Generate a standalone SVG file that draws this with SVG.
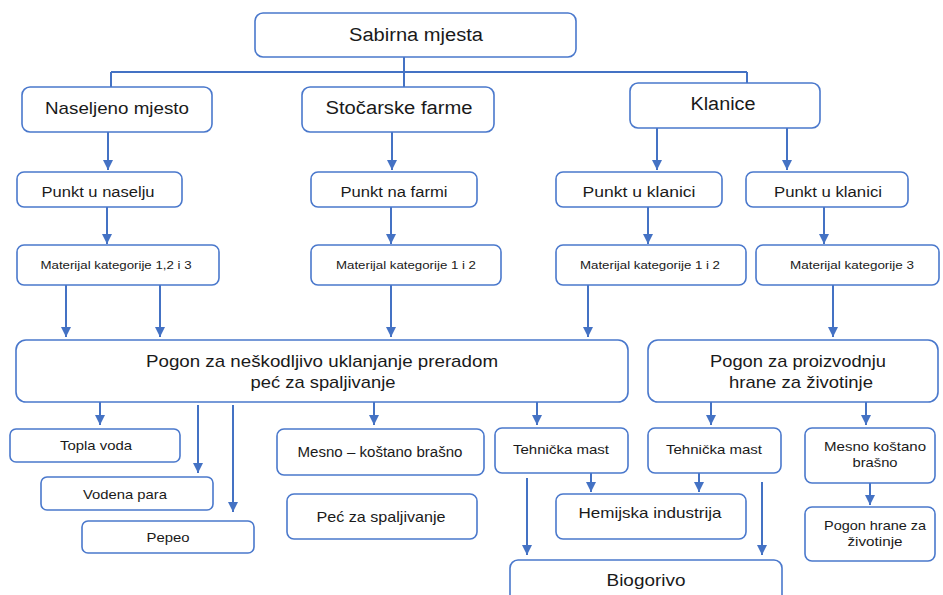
<svg xmlns="http://www.w3.org/2000/svg" width="943" height="595" viewBox="0 0 943 595">
<style>
.b{fill:#fff;stroke:#4a78cc;stroke-width:1.6}
.t{font-family:"Liberation Sans",Arial,sans-serif;fill:#1a1a1a;text-anchor:middle}
.l{fill:none;stroke:#4472c4;stroke-width:2}
.a{fill:none;stroke:#4472c4;stroke-width:2;marker-end:url(#ah)}
</style>
<defs>
<marker id="ah" viewBox="0 0 10 10" refX="10" refY="5" markerWidth="5" markerHeight="5" markerUnits="strokeWidth" orient="auto">
<path d="M0,0 L10,5 L0,10 z" fill="#4472c4"/>
</marker>
</defs>
<rect width="943" height="595" fill="#fff"/>
<g id="connectors">
<path class="l" d="M404,57 V72 M111,72 H747 M111,72 V88 M404,72 V88 M747,72 V83"/>
<path class="a" d="M108,132 V170"/>
<path class="a" d="M392,132 V170"/>
<path class="a" d="M657,128 V170"/>
<path class="a" d="M787,128 V170"/>
<path class="a" d="M107,207 V244"/>
<path class="a" d="M391,207 V244"/>
<path class="a" d="M648,207 V244"/>
<path class="a" d="M824,207 V244"/>
<path class="a" d="M66,285 V337"/>
<path class="a" d="M160,285 V337"/>
<path class="a" d="M391,285 V337"/>
<path class="a" d="M588,285 V337"/>
<path class="a" d="M833,285 V337"/>
<path class="a" d="M100,402 V425"/>
<path class="a" d="M198,405 V473"/>
<path class="a" d="M233,405 V512"/>
<path class="a" d="M374,402 V425"/>
<path class="a" d="M537,402 V425"/>
<path class="a" d="M711,402 V425"/>
<path class="a" d="M866,402 V425"/>
<path class="a" d="M591,473 V492"/>
<path class="a" d="M699,473 V492"/>
<path class="a" d="M527,478 V555"/>
<path class="a" d="M762,482 V555"/>
<path class="a" d="M870,483 V505"/>
</g>
<g id="sabirna"><rect class="b" x="255" y="13" width="321" height="44" rx="8"/><text class="t" x="416" y="41" font-size="18" textLength="134" lengthAdjust="spacingAndGlyphs">Sabirna mjesta</text></g>
<g id="naseljeno"><rect class="b" x="22" y="87" width="190" height="45" rx="8"/><text class="t" x="117" y="114" font-size="17" textLength="144" lengthAdjust="spacingAndGlyphs">Naseljeno mjesto</text></g>
<g id="stocarske"><rect class="b" x="302" y="87" width="192" height="45" rx="8"/><text class="t" x="399" y="114" font-size="18" textLength="147" lengthAdjust="spacingAndGlyphs">Stočarske farme</text></g>
<g id="klanice"><rect class="b" x="630" y="83" width="190" height="45" rx="8"/><text class="t" x="723" y="110" font-size="18" textLength="65" lengthAdjust="spacingAndGlyphs">Klanice</text></g>
<g id="punkt-naselje"><rect class="b" x="17" y="172" width="165" height="35" rx="7"/><text class="t" x="98" y="197" font-size="14" textLength="113" lengthAdjust="spacingAndGlyphs">Punkt u naselju</text></g>
<g id="punkt-farma"><rect class="b" x="311" y="172" width="166" height="35" rx="7"/><text class="t" x="394" y="197" font-size="14" textLength="107" lengthAdjust="spacingAndGlyphs">Punkt na farmi</text></g>
<g id="punkt-klanica1"><rect class="b" x="556" y="172" width="166" height="35" rx="7"/><text class="t" x="639" y="197" font-size="14" textLength="113" lengthAdjust="spacingAndGlyphs">Punkt u klanici</text></g>
<g id="punkt-klanica2"><rect class="b" x="746" y="172" width="162" height="35" rx="7"/><text class="t" x="828" y="197" font-size="14" textLength="108" lengthAdjust="spacingAndGlyphs">Punkt u klanici</text></g>
<g id="mat-123"><rect class="b" x="17" y="245" width="202" height="40" rx="7"/><text class="t" x="116" y="269" font-size="11" textLength="151" lengthAdjust="spacingAndGlyphs">Materijal kategorije 1,2 i 3</text></g>
<g id="mat-12a"><rect class="b" x="311" y="245" width="190" height="40" rx="7"/><text class="t" x="406" y="269" font-size="11" textLength="140" lengthAdjust="spacingAndGlyphs">Materijal kategorije 1 i 2</text></g>
<g id="mat-12b"><rect class="b" x="556" y="245" width="190" height="40" rx="7"/><text class="t" x="650" y="269" font-size="11" textLength="140" lengthAdjust="spacingAndGlyphs">Materijal kategorije 1 i 2</text></g>
<g id="mat-3"><rect class="b" x="756" y="245" width="183" height="40" rx="7"/><text class="t" x="852" y="269" font-size="11" textLength="124" lengthAdjust="spacingAndGlyphs">Materijal kategorije 3</text></g>
<g id="pogon1"><rect class="b" x="16" y="340" width="612" height="62" rx="10"/><text class="t" x="322" y="367" font-size="17" textLength="352" lengthAdjust="spacingAndGlyphs">Pogon za neškodljivo uklanjanje preradom</text><text class="t" x="323" y="388" font-size="17" textLength="145" lengthAdjust="spacingAndGlyphs">peć za spaljivanje</text></g>
<g id="pogon2"><rect class="b" x="648" y="340" width="290" height="62" rx="10"/><text class="t" x="798" y="367" font-size="17" textLength="176" lengthAdjust="spacingAndGlyphs">Pogon za proizvodnju</text><text class="t" x="801" y="388" font-size="17" textLength="144" lengthAdjust="spacingAndGlyphs">hrane za životinje</text></g>
<g id="topla"><rect class="b" x="10" y="429" width="170" height="33" rx="6"/><text class="t" x="96" y="450" font-size="13" textLength="72" lengthAdjust="spacingAndGlyphs">Topla voda</text></g>
<g id="vodena"><rect class="b" x="41" y="477" width="172" height="33" rx="6"/><text class="t" x="125" y="499" font-size="13" textLength="84" lengthAdjust="spacingAndGlyphs">Vodena para</text></g>
<g id="pepeo"><rect class="b" x="82" y="521" width="172" height="32" rx="6"/><text class="t" x="168" y="542" font-size="13" textLength="43" lengthAdjust="spacingAndGlyphs">Pepeo</text></g>
<g id="mesno1"><rect class="b" x="277" y="429" width="207" height="46" rx="7"/><text class="t" x="380" y="457" font-size="14" textLength="165" lengthAdjust="spacingAndGlyphs">Mesno – koštano brašno</text></g>
<g id="pec"><rect class="b" x="287" y="494" width="190" height="45" rx="7"/><text class="t" x="381" y="522" font-size="15" textLength="129" lengthAdjust="spacingAndGlyphs">Peć za spaljivanje</text></g>
<g id="mast1"><rect class="b" x="495" y="428" width="133" height="45" rx="7"/><text class="t" x="561" y="454" font-size="13" textLength="96" lengthAdjust="spacingAndGlyphs">Tehnička mast</text></g>
<g id="mast2"><rect class="b" x="648" y="428" width="133" height="45" rx="7"/><text class="t" x="714" y="454" font-size="13" textLength="96" lengthAdjust="spacingAndGlyphs">Tehnička mast</text></g>
<g id="mesno2"><rect class="b" x="805" y="428" width="130" height="55" rx="7"/><text class="t" x="875" y="451" font-size="13" textLength="102" lengthAdjust="spacingAndGlyphs">Mesno koštano</text><text class="t" x="875" y="467" font-size="13" textLength="45" lengthAdjust="spacingAndGlyphs">brašno</text></g>
<g id="hemijska"><rect class="b" x="556" y="494" width="190" height="45" rx="7"/><text class="t" x="650" y="518" font-size="15" textLength="143" lengthAdjust="spacingAndGlyphs">Hemijska industrija</text></g>
<g id="pogon-hrane"><rect class="b" x="805" y="507" width="130" height="54" rx="7"/><text class="t" x="875" y="530" font-size="13" textLength="102" lengthAdjust="spacingAndGlyphs">Pogon hrane za</text><text class="t" x="875" y="546" font-size="13" textLength="55" lengthAdjust="spacingAndGlyphs">životinje</text></g>
<g id="biogorivo"><rect class="b" x="510" y="560" width="272" height="50" rx="8"/><text class="t" x="646" y="586" font-size="17" textLength="79" lengthAdjust="spacingAndGlyphs">Biogorivo</text></g>
</svg>
